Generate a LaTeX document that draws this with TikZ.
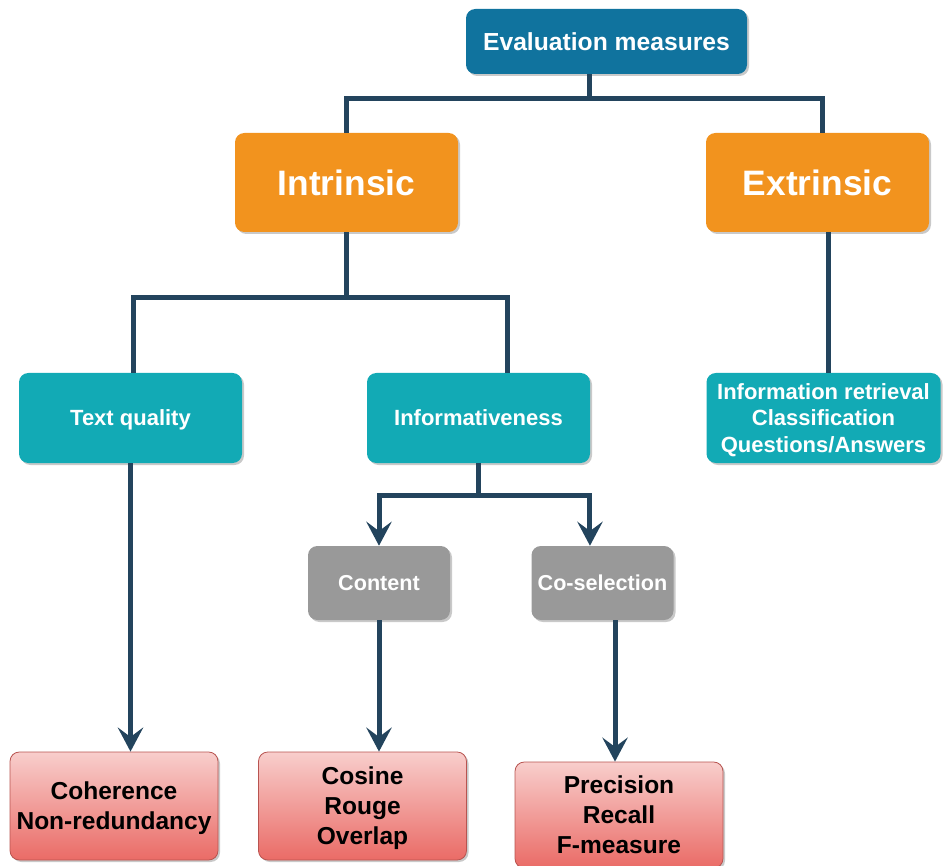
\documentclass[tikz,border=0pt]{standalone}
\usepackage{fontspec}
\setmainfont{Liberation Sans}
\usetikzlibrary{arrows.meta,shadows,calc}

\definecolor{evalblue}{RGB}{16,115,158}
\definecolor{orangebox}{RGB}{242,147,30}
\definecolor{tealbox}{RGB}{18,170,181}
\definecolor{graybox}{RGB}{153,153,153}
\definecolor{linecol}{RGB}{35,68,93}
\definecolor{pinktop}{RGB}{248,206,204}
\definecolor{pinkbot}{RGB}{234,107,102}
\definecolor{pinkedge}{RGB}{184,84,80}

\tikzset{
  boxbase/.style={rounded corners=7pt, inner sep=0pt, align=center, text depth=0pt,
    drop shadow={shadow xshift=1.5pt, shadow yshift=-1.5pt, opacity=0.3, fill=black!70}},
  topbox/.style={boxbase, fill=evalblue, text=white,
    minimum width=210.75pt, minimum height=48.75pt,
    font=\bfseries\fontsize{18.5}{22}\selectfont},
  bigbox/.style={boxbase, fill=orangebox, text=white,
    minimum width=167.25pt, minimum height=74.25pt,
    font=\bfseries\fontsize{26.5}{30}\selectfont},
  midbox/.style={boxbase, fill=tealbox, text=white,
    minimum width=167.25pt, minimum height=67.5pt,
    font=\bfseries\fontsize{16.5}{20}\selectfont},
  subbox/.style={boxbase, fill=graybox, text=white,
    minimum width=106.5pt, minimum height=55.5pt,
    font=\bfseries\fontsize{16.2}{20}\selectfont},
  leafbox/.style={boxbase, top color=pinktop, bottom color=pinkbot,
    draw=pinkedge, line width=0.6pt, text=black,
    minimum width=156pt, minimum height=81pt,
    font=\bfseries\fontsize{18.4}{22.5}\selectfont},
  conn/.style={draw=linecol, line width=3.75pt, line join=miter},
  arr/.style={conn, -{Stealth[length=18pt,width=19pt,inset=7pt]}}
}

\begin{document}
\begin{tikzpicture}[x=0.75pt,y=-0.75pt]
\useasboundingbox (0,0) rectangle (943,866);

% boxes
\node[topbox]  (eval)  at (606.5,41.5) {Evaluation measures};
\node[bigbox]  (intr)  at (346.5,182.5) {Intrinsic};
\node[bigbox]  (extr)  at (817.5,182.5) {Extrinsic};
\node[midbox]  (tq)    at (130.5,418) {Text quality};
\node[midbox]  (inf)   at (478.5,418) {Informativeness};
\node[midbox, minimum width=175.5pt] (ir) at (823.5,418)
  {Information retrieval\\Classification\\Questions/Answers};
\node[subbox]  (cont)  at (379,583) {Content};
\node[subbox]  (cosel) at (602.5,583) {Co-selection};
\node[leafbox] (coh)   at (114,806) {Coherence\\Non-redundancy};
\node[leafbox] (cos)   at (362.5,806) {Cosine\\Rouge\\Overlap};
\node[leafbox, minimum height=79.5pt] (prec) at (619,815) {Precision\\Recall\\F-measure};

% connectors
\draw[conn] ([xshift=-12.4pt]eval.south) -- ++(0,24) -| (intr.north);
\draw[conn] ([xshift=-12.4pt]eval.south) -- ++(0,24) -| ([xshift=4pt]extr.north);

\draw[conn] (intr.south) -- ++(0,65) -| ([xshift=1.9pt]tq.north);
\draw[conn] (intr.south) -- ++(0,65) -| ([xshift=21.4pt]inf.north);

\draw[conn] ([xshift=7.9pt]extr.south) coordinate (e1) -- (e1 |- ir.north);

\draw[arr] (inf.south) -- ++(0,32) -| (cont.north);
\draw[arr] (inf.south) -- ++(0,32) -| ([xshift=-9.4pt]cosel.north);

\draw[arr] (tq.south) -- (tq.south |- coh.north);
\draw[arr] (cont.south) -- (cont.south |- cos.north);
\draw[arr] ([xshift=9.4pt]cosel.south) coordinate (c1) -- (c1 |- prec.north);
\end{tikzpicture}
\end{document}
